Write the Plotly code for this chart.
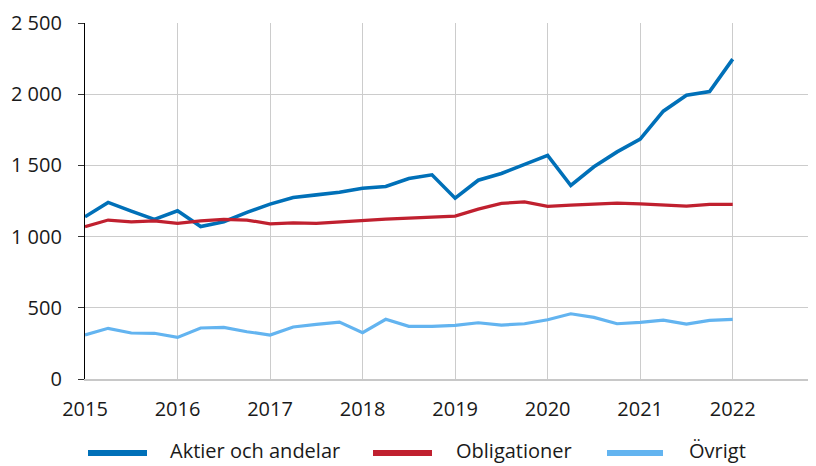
import plotly.graph_objects as go

quarters = [2015 + i * 0.25 for i in range(29)]

aktier = [1139, 1240, 1179, 1121, 1181, 1071, 1104, 1170, 1228, 1275, 1293, 1312,
          1340, 1352, 1408, 1434, 1270, 1396, 1443, 1504, 1570, 1359, 1490, 1595,
          1684, 1881, 1993, 2019, 2246]
obligationer = [1069, 1116, 1104, 1111, 1093, 1111, 1121, 1116, 1090, 1097, 1093, 1104,
                1116, 1123, 1130, 1139, 1144, 1193, 1233, 1244, 1212, 1221, 1228, 1235,
                1230, 1223, 1214, 1226, 1226]
ovrigt = [309, 356, 323, 321, 292, 358, 363, 332, 309, 365, 384, 400,
          325, 419, 370, 370, 377, 395, 379, 388, 416, 458, 433, 388,
          398, 414, 386, 412, 419]

series_names = ["Aktier och andelar", "Obligationer", "Övrigt"]
series_colors = ["#0070b8", "#c0202f", "#63b4f0"]
series_values = [aktier, obligationer, ovrigt]
series_widths = [3.6, 3.2, 3.2]

x_ticks = list(range(2015, 2023))
y_ticks = [0, 500, 1000, 1500, 2000, 2500]

# page has an 8px body margin: figure origin sits at (8, 8) in the screenshot
OFF = 8
W, H = 816, 466
ML, MT = 85 - OFF, 23 - OFF
PLOT_BOTTOM = 379 - OFF
PLOT_RIGHT = 816 - OFF
MB = H - PLOT_BOTTOM
MR = W - PLOT_RIGHT
PW, PH = W - ML - MR, H - MT - MB

fig = go.Figure()
for name, vals, col, lw in zip(series_names, series_values, series_colors, series_widths):
    fig.add_trace(go.Scatter(x=quarters, y=vals, mode="lines", name=name,
                             line=dict(color=col, width=lw), showlegend=False))

font = "Open Sans, Liberation Sans, Arial, sans-serif"

fig.update_layout(
    width=W, height=H,
    margin=dict(l=ML, r=MR, t=MT, b=MB, autoexpand=False),
    paper_bgcolor="white", plot_bgcolor="white",
    separators=", ",
    font=dict(family=font, size=20, color="#1a1a1a"),
    xaxis=dict(range=[2015, 2022.9], tickmode="array", tickvals=x_ticks,
               ticktext=[str(t) for t in x_ticks],
               showgrid=True, gridcolor="#cccccc", gridwidth=1.3,
               showline=True, linecolor="#c8c8c8", linewidth=1.5,
               ticks="", ticklabelstandoff=11, zeroline=False),
    yaxis=dict(range=[0, 2500], tickmode="array", tickvals=y_ticks,
               tickformat=",d",
               showgrid=True, gridcolor="#cccccc", gridwidth=1.3,
               showline=True, linecolor="#000000", linewidth=1.3,
               ticks="outside", ticklen=6, tickwidth=1.3, tickcolor="#333333",
               ticklabelstandoff=12, zeroline=False),
)

# Manual legend (screenshot pixel positions converted to paper coords)
legend_items = [
    (88, 147, 169),
    (373, 432, 455),
    (607, 663, 688),
]
ly = 453 - OFF
text_bottom = 465 - OFF
def px_to_paper_x(px):
    return (px - OFF - ML) / PW
def px_to_paper_y(py):
    return (PLOT_BOTTOM - py) / PH

for (x0, x1, tx), name, col in zip(legend_items, series_names, series_colors):
    fig.add_shape(type="line", xref="paper", yref="paper",
                  x0=px_to_paper_x(x0), x1=px_to_paper_x(x1),
                  y0=px_to_paper_y(ly), y1=px_to_paper_y(ly),
                  line=dict(color=col, width=6))
    fig.add_annotation(xref="paper", yref="paper", x=px_to_paper_x(tx),
                       y=px_to_paper_y(text_bottom), text=name, showarrow=False,
                       xanchor="left", yanchor="bottom", borderpad=0,
                       font=dict(family=font, size=20, color="#1a1a1a"))

fig.write_html("out.html")
